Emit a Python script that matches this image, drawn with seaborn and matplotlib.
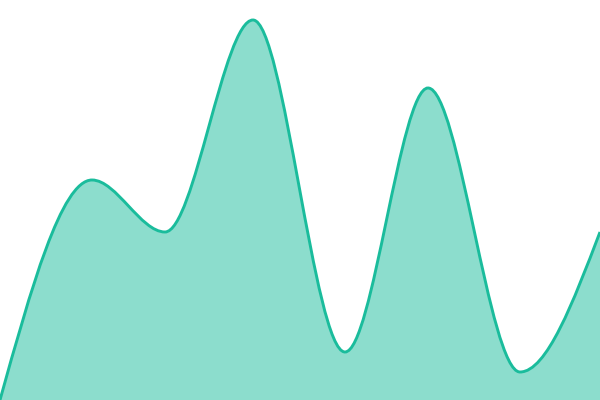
import numpy as np
import matplotlib
matplotlib.use("Agg")
import matplotlib.pyplot as plt
from matplotlib.path import Path
from matplotlib.patches import PathPatch
import seaborn as sns

sns.set_style("white")

# values (x position, value on a 0-100 scale)
xs = [0, 92, 165, 253, 345, 428, 520, 600]
values = [0, 55, 42, 95, 12, 78, 7, 42]

line_color = "#1abc9c"


def monotone_tangents(x, y):
    # same slopes as d3.curveMonotoneX
    x = np.asarray(x, float)
    y = np.asarray(y, float)
    n = len(x)
    t = np.zeros(n)
    for i in range(1, n - 1):
        h0 = x[i] - x[i - 1]
        h1 = x[i + 1] - x[i]
        s0 = (y[i] - y[i - 1]) / h0
        s1 = (y[i + 1] - y[i]) / h1
        p = (s0 * h1 + s1 * h0) / (h0 + h1)
        t[i] = (np.sign(s0) + np.sign(s1)) * min(abs(s0), abs(s1), 0.5 * abs(p))
    t[0] = (3 * (y[1] - y[0]) / (x[1] - x[0]) - t[1]) / 2
    t[-1] = (3 * (y[-1] - y[-2]) / (x[-1] - x[-2]) - t[-2]) / 2
    return t


def curve_path(x, y, close=False):
    t = monotone_tangents(x, y)
    verts = [(x[0], y[0])]
    codes = [Path.MOVETO]
    for i in range(len(x) - 1):
        dx = (x[i + 1] - x[i]) / 3
        verts += [
            (x[i] + dx, y[i] + dx * t[i]),
            (x[i + 1] - dx, y[i + 1] - dx * t[i + 1]),
            (x[i + 1], y[i + 1]),
        ]
        codes += [Path.CURVE4] * 3
    if close:
        verts += [(x[-1], 0), (x[0], 0), (x[0], y[0])]
        codes += [Path.LINETO, Path.LINETO, Path.CLOSEPOLY]
    return Path(verts, codes)


fig = plt.figure(figsize=(6, 4), dpi=100)
ax = fig.add_axes([0, 0, 1, 1])

ax.add_patch(PathPatch(curve_path(xs, values, close=True),
                       facecolor=line_color, alpha=0.5, edgecolor="none"))
ax.add_patch(PathPatch(curve_path(xs, values),
                       facecolor="none", edgecolor=line_color, linewidth=2.1))

ax.set_xlim(0, 600)
ax.set_ylim(0, 100)
ax.axis("off")

fig.savefig("out.png", dpi=100)
